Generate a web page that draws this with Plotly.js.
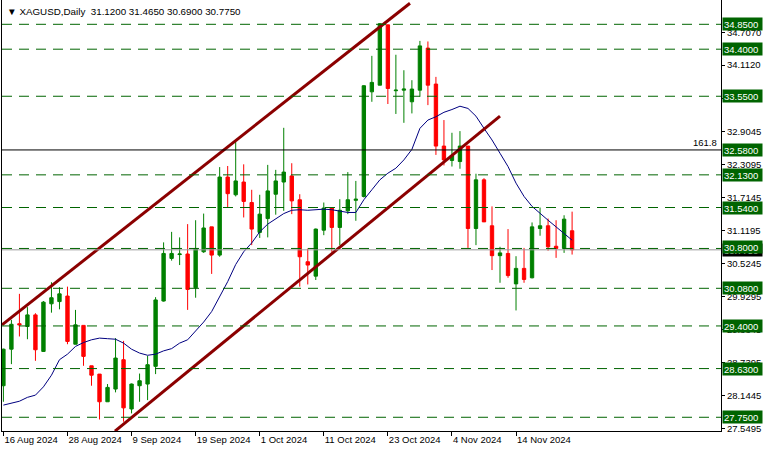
<!DOCTYPE html>
<html>
<head>
<meta charset="utf-8">
<script src="https://cdn.plot.ly/plotly-3.0.1.min.js"></script>
<style>html,body{margin:0;padding:0;background:#fff;}#chart{width:766px;height:452px;}</style>
</head>
<body>
<div id="chart"></div>
<script>
// ---- data (bar index 0 = 16 Aug 2024) ----
const symbol = 'XAGUSD,Daily';
const openP  = [28.32,28.98,29.44,29.39,29.60,28.94,29.80,29.84,29.94,29.07,29.41,28.68,28.53,28.03,28.26,28.79,27.90,28.32,28.35,28.67,
                29.85,30.62,30.69,30.70,30.09,30.74,31.19,30.68,32.09,31.77,32.00,31.63,31.09,31.34,31.78,32.00,32.11,31.68,30.56,30.30,
                31.13,31.53,31.18,31.48,31.67,31.74,33.63,33.75,34.84,33.65,33.66,33.45,33.66,34.42,33.77,32.65,32.39,32.37,32.65,31.16,
                32.04,31.21,30.67,30.71,30.16,30.44,30.27,31.16,31.21,30.84,30.80,31.12];
const highP  = [28.99,29.51,29.98,29.74,29.63,29.85,30.19,30.10,30.11,29.69,29.41,28.68,28.53,28.35,29.18,29.13,28.36,28.54,28.86,29.92,
                30.91,31.10,31.00,31.24,31.31,31.43,31.19,32.27,32.29,32.73,32.32,31.86,31.77,32.31,32.22,32.98,32.34,31.78,30.80,31.16,
                31.63,31.54,31.69,32.18,32.02,33.75,34.28,34.87,34.84,34.30,34.02,33.84,34.55,34.54,33.90,33.12,32.89,32.92,32.65,32.15,
                32.07,31.56,30.83,31.15,30.66,30.81,31.27,31.54,31.34,31.31,31.40,31.465];
const lowP   = [28.03,28.71,29.21,29.16,28.77,28.93,29.64,29.70,29.07,29.07,28.68,28.32,27.71,28.03,28.20,27.67,27.82,28.03,28.06,28.53,
                29.84,30.58,30.50,29.69,29.91,30.72,30.34,30.65,31.54,31.74,31.36,30.86,30.99,31.00,31.41,31.48,31.42,30.11,30.15,30.23,
                31.04,30.74,30.86,31.42,31.30,31.72,33.45,33.75,33.41,33.23,33.07,33.24,33.54,33.39,32.49,32.30,32.28,32.24,30.81,30.86,
                31.28,30.41,30.18,30.27,29.68,30.18,30.26,31.03,30.76,30.63,30.72,30.69];
const closeP = [28.98,29.43,29.42,29.60,28.97,29.83,29.91,29.98,29.12,29.42,28.85,28.51,28.03,28.29,28.82,27.92,28.35,28.41,28.70,29.87,
                30.71,30.71,30.70,30.06,30.80,31.17,30.68,32.09,31.79,32.02,31.65,31.15,31.42,31.84,32.02,32.18,31.66,30.65,30.50,31.15,
                31.53,31.18,31.49,31.68,31.69,33.74,33.80,34.86,33.69,33.66,33.68,33.68,34.46,33.75,32.65,32.40,32.48,32.65,31.16,32.04,
                31.28,30.67,30.72,30.31,30.44,30.24,31.19,31.21,30.83,30.80,31.33,30.775];
const maLine = [27.97,28.01,28.04,28.11,28.15,28.30,28.51,28.79,28.89,29.03,29.10,29.15,29.18,29.17,29.16,29.09,28.98,28.91,28.87,28.89,
                28.95,28.99,29.09,29.15,29.31,29.47,29.66,29.94,30.20,30.51,30.74,30.90,31.10,31.24,31.34,31.43,31.49,31.50,31.49,31.50,
                31.51,31.50,31.47,31.45,31.45,31.68,31.86,32.04,32.16,32.25,32.40,32.59,32.97,33.12,33.18,33.26,33.31,33.37,33.33,33.19,
                32.97,32.76,32.52,32.28,31.98,31.74,31.56,31.43,31.31,31.19,31.07,30.95];
const tickIndex = [0,8,16,24,32,40,48,56,64];
const tickText  = ['16 Aug 2024','28 Aug 2024','9 Sep 2024','19 Sep 2024','1 Oct 2024','11 Oct 2024','23 Oct 2024','4 Nov 2024','14 Nov 2024'];
const priceTicks = [34.7070,34.1120,33.5095,32.9045,32.3095,31.7145,31.1195,30.5245,29.9295,29.3345,28.7395,28.1445,27.5495];
const levels = [34.85,34.40,33.55,32.13,31.54,30.80,30.08,29.40,28.63,27.75];
const fibLevel = 32.58;
const fibText = '161.8';
// channel anchors: [bar index, price]
const channelUpperX = [-0.175, 50.76];
const channelUpperY = [29.42, 35.23];
const channelLowerX = [13.93, 62.0];
const channelLowerY = [27.50, 33.19];

// ---- build ----
const idx = openP.map((_, i) => i);
const last = openP.length - 1;
const bid = closeP[last];
const FONT = 'Liberation Sans, Arial, sans-serif';
const green = '#008000', red = '#ff0000', lvlGreen = '#006400';

const traces = [
  {type:'candlestick', x: idx, open: openP, high: highP, low: lowP, close: closeP,
   increasing:{line:{color:green,width:1}, fillcolor:green},
   decreasing:{line:{color:red,width:1}, fillcolor:red},
   whiskerwidth:0, hoverinfo:'skip', showlegend:false},
  {type:'scatter', mode:'lines', x: idx, y: maLine, line:{color:'#000080', width:1}, hoverinfo:'skip'},
  {type:'scatter', mode:'lines', x: channelUpperX, y: channelUpperY, line:{color:'#8b0000', width:3}, hoverinfo:'skip'},
  {type:'scatter', mode:'lines', x: channelLowerX, y: channelLowerY, line:{color:'#8b0000', width:3}, hoverinfo:'skip'}
];

const shapes = [];
shapes.push({type:'line', xref:'paper', x0:0, x1:1, yref:'y', y0:bid, y1:bid, line:{color:'#9a9a9a', width:1}, layer:'above'});
levels.forEach(v => shapes.push({type:'line', xref:'paper', x0:0, x1:1, yref:'y', y0:v, y1:v,
  line:{color:lvlGreen, width:1, dash:'10px,7px'}, layer:'above'}));
shapes.push({type:'line', xref:'paper', x0:0, x1:1, yref:'y', y0:fibLevel, y1:fibLevel, line:{color:'#000', width:1}, layer:'above'});

const annotations = [];
annotations.push({xref:'paper', x:0, xanchor:'left', yref:'paper', y:1, yanchor:'top', xshift:3, yshift:-4,
  text:'▼ ' + symbol + '  ' + [openP[last], highP[last], lowP[last], closeP[last]].map(v => v.toFixed(4)).join(' '),
  showarrow:false, font:{family:FONT, size:9.8, color:'#000'}});
annotations.push({xref:'paper', x:1, xanchor:'left', xshift:1, yref:'y', y:bid, yanchor:'middle',
  text:bid.toFixed(4), showarrow:false, bgcolor:'#000', font:{family:FONT, size:9.5, color:'#fff'},
  width:37, height:10, borderpad:1, align:'left'});
levels.concat([fibLevel]).forEach(v => annotations.push({xref:'paper', x:1, xanchor:'left', xshift:1, yref:'y', y:v, yanchor:'middle',
  yshift: (v === 30.80 ? 1.5 : 0),
  text:v.toFixed(4), showarrow:false, bgcolor:lvlGreen, font:{family:FONT, size:9.5, color:'#fff'},
  width:37, height:10, borderpad:1, align:'left'}));
annotations.push({xref:'paper', x:1, xanchor:'right', xshift:-2, yref:'y', y:fibLevel, yanchor:'bottom',
  text:fibText, showarrow:false, font:{family:FONT, size:9.5, color:'#000'}});

const layout = {
  width:766, height:452,
  margin:{l:2, r:45, t:0, b:21, pad:0},
  paper_bgcolor:'#fff', plot_bgcolor:'#fff', showlegend:false,
  boxgap:0.4,
  xaxis:{range:[-0.175, 89.59], rangeslider:{visible:false}, tickvals:tickIndex, ticktext:tickText,
    ticks:'outside', ticklen:4, tickcolor:'#000', showline:true, linecolor:'#000', linewidth:1,
    showgrid:false, zeroline:false, ticklabelposition:'outside right',
    tickfont:{family:FONT, size:9.5, color:'#000'}, fixedrange:true},
  yaxis:{side:'right', range:[27.502, 35.289], tickvals:priceTicks, ticktext:priceTicks.map(v => v.toFixed(4)),
    ticks:'outside', ticklen:3, tickcolor:'#000', showline:true, mirror:true, linecolor:'#000', linewidth:1,
    showgrid:false, zeroline:false, tickfont:{family:FONT, size:9.5, color:'#000'}, fixedrange:true},
  shapes:shapes, annotations:annotations
};

Plotly.newPlot('chart', traces, layout, {displayModeBar:false, staticPlot:true});
</script>
</body>
</html>
